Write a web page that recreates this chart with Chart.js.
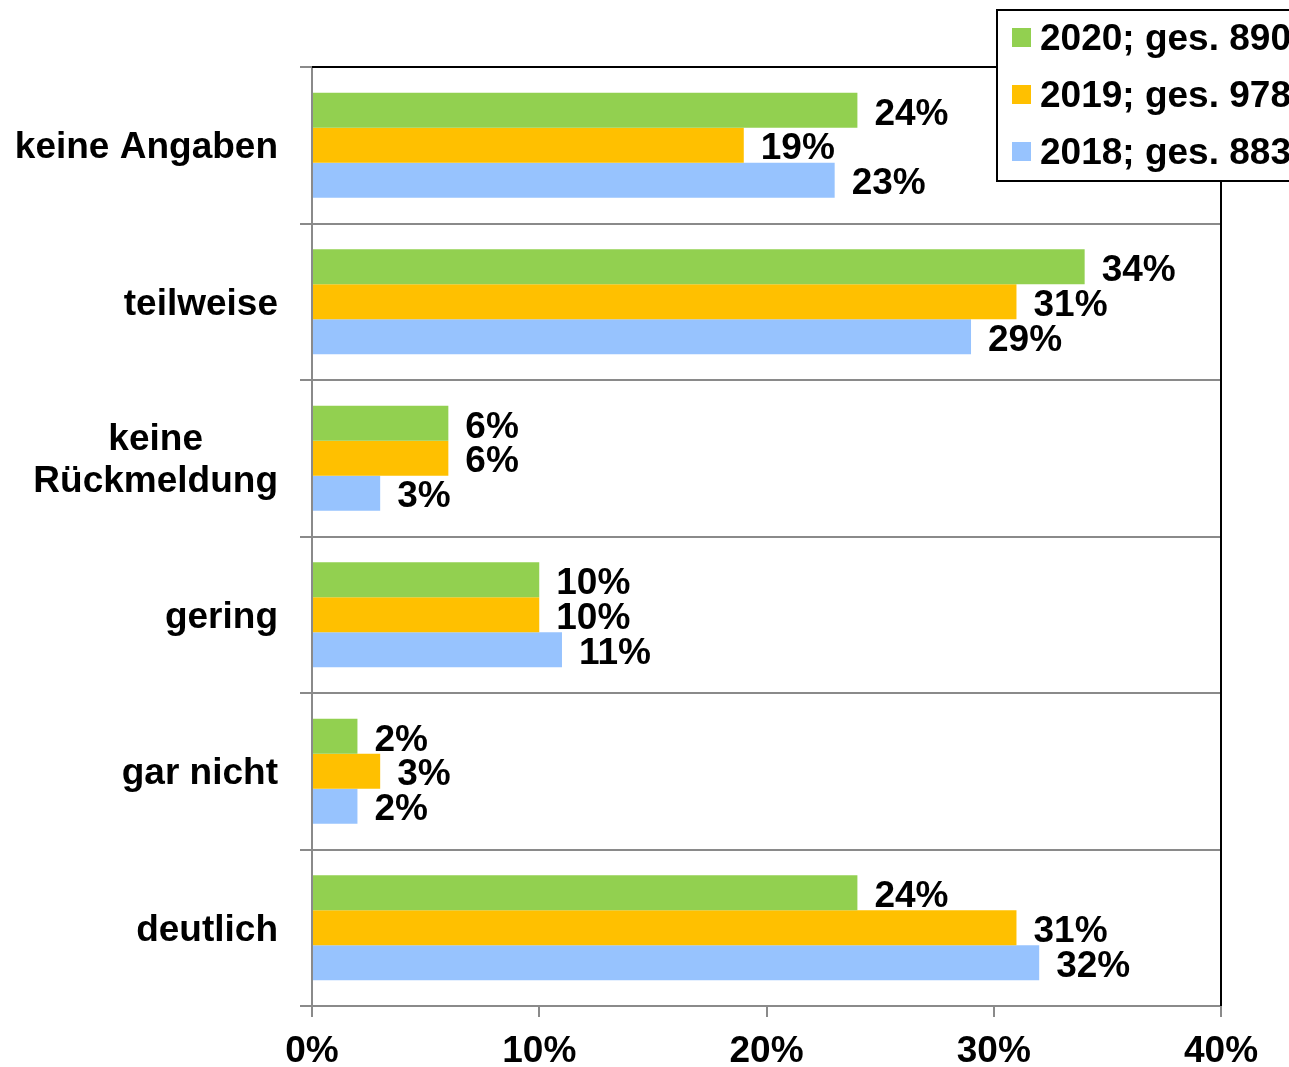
<!DOCTYPE html>
<html>
<head>
<meta charset="utf-8">
<script src="https://cdn.jsdelivr.net/npm/chart.js@4"></script>
<style>
  body { margin: 0; background: #fff; }
  #wrap { width: 1289px; height: 1067px; position: relative; }
</style>
</head>
<body>
<div id="wrap"><canvas id="Chart"></canvas></div>
<script>
// categories top to bottom
var categories = [['keine Angaben'], ['teilweise'], ['keine', 'Rückmeldung'], ['gering'], ['gar nicht'], ['deutlich']];
var seriesNames = ['2020; ges. 890', '2019; ges. 978', '2018; ges. 883'];
var values2020 = [24, 34, 6, 10, 2, 24];
var values2019 = [19, 31, 6, 10, 3, 31];
var values2018 = [23, 29, 3, 11, 2, 32];
var xTicks = [0, 10, 20, 30, 40];

var colors = ['#92D050', '#FFC000', '#97C3FE'];
var FONT = '"Liberation Sans", Arial, sans-serif';
var GRAY = '#8a8a8a';

// value labels right of each bar
var valueLabels = {
  id: 'valueLabels',
  afterDatasetsDraw: function(chart) {
    var ctx = chart.ctx;
    ctx.save();
    ctx.font = 'bold 37px ' + FONT;
    ctx.fillStyle = '#000';
    ctx.textAlign = 'left';
    ctx.textBaseline = 'middle';
    chart.data.datasets.forEach(function(ds, i) {
      chart.getDatasetMeta(i).data.forEach(function(bar, j) {
        ctx.fillText(ds.data[j] + '%', bar.x + 17, bar.y + 4);
      });
    });
    ctx.restore();
  }
};

// y labels: block right aligned, lines centered
var catLabels = {
  id: 'catLabels',
  afterDraw: function(chart) {
    var ctx = chart.ctx;
    var y = chart.scales.y;
    ctx.save();
    ctx.font = 'bold 37px ' + FONT;
    ctx.fillStyle = '#000';
    ctx.textAlign = 'center';
    ctx.textBaseline = 'middle';
    categories.forEach(function(lines, i) {
      var w = 0;
      lines.forEach(function(t) { w = Math.max(w, ctx.measureText(t).width); });
      var cx = 278 - w / 2;
      var cy = y.getPixelForValue(i);
      var lh = 42;
      lines.forEach(function(t, k) {
        ctx.fillText(t, cx, cy + (k - (lines.length - 1) / 2) * lh + 3);
      });
    });
    ctx.restore();
  }
};

// black top/right frame and the legend box
var frameLegend = {
  id: 'frameLegend',
  afterDraw: function(chart) {
    var ctx = chart.ctx;
    var a = chart.chartArea;
    ctx.save();
    ctx.strokeStyle = '#000';
    ctx.lineWidth = 2;
    ctx.beginPath();
    ctx.moveTo(a.left, a.top);
    ctx.lineTo(a.right, a.top);
    ctx.lineTo(a.right, a.bottom);
    ctx.stroke();

    ctx.fillStyle = '#fff';
    ctx.fillRect(997, 10, 300, 171);
    ctx.strokeRect(997, 10, 300, 171);
    ctx.font = 'bold 37px ' + FONT;
    ctx.textAlign = 'left';
    ctx.textBaseline = 'middle';
    chart.data.datasets.forEach(function(ds, i) {
      var cy = 38 + i * 57;
      ctx.fillStyle = ds.backgroundColor;
      ctx.fillRect(1012, cy - 10, 19, 19);
      ctx.fillStyle = '#000';
      ctx.fillText(ds.label, 1040, cy + 2);
    });
    ctx.restore();
  }
};

var ctx = document.getElementById('Chart').getContext('2d');
var chart = new Chart(ctx, {
  type: 'bar',
  data: {
    labels: categories,
    datasets: [
      { label: seriesNames[0], data: values2020, backgroundColor: colors[0] },
      { label: seriesNames[1], data: values2019, backgroundColor: colors[1] },
      { label: seriesNames[2], data: values2018, backgroundColor: colors[2] }
    ]
  },
  options: {
    indexAxis: 'y',
    responsive: true,
    maintainAspectRatio: false,
    animation: false,
    categoryPercentage: 0.67,
    barPercentage: 1.0,
    layout: { padding: { left: 0, right: 68, top: 67, bottom: 0 } },
    plugins: {
      legend: { display: false },
      tooltip: { enabled: false }
    },
    scales: {
      x: {
        min: xTicks[0],
        max: xTicks[xTicks.length - 1],
        afterBuildTicks: function(scale) {
          scale.ticks = xTicks.map(function(v) { return { value: v }; });
        },
        afterFit: function(scale) { scale.height = 61; },
        grid: { drawOnChartArea: false, drawTicks: true, tickLength: 11, color: GRAY, lineWidth: 2 },
        border: { color: GRAY, width: 2 },
        ticks: {
          padding: 13,
          color: '#000',
          font: { family: FONT, size: 37, weight: 'bold' },
          maxRotation: 0,
          callback: function(v) { return v + '%'; }
        }
      },
      y: {
        afterFit: function(scale) { scale.width = 312; },
        grid: { offset: true, drawTicks: true, tickLength: 12, color: GRAY, lineWidth: 2 },
        border: { color: GRAY, width: 2 },
        ticks: { display: false }
      }
    }
  },
  plugins: [valueLabels, catLabels, frameLegend]
});
</script>
</body>
</html>
